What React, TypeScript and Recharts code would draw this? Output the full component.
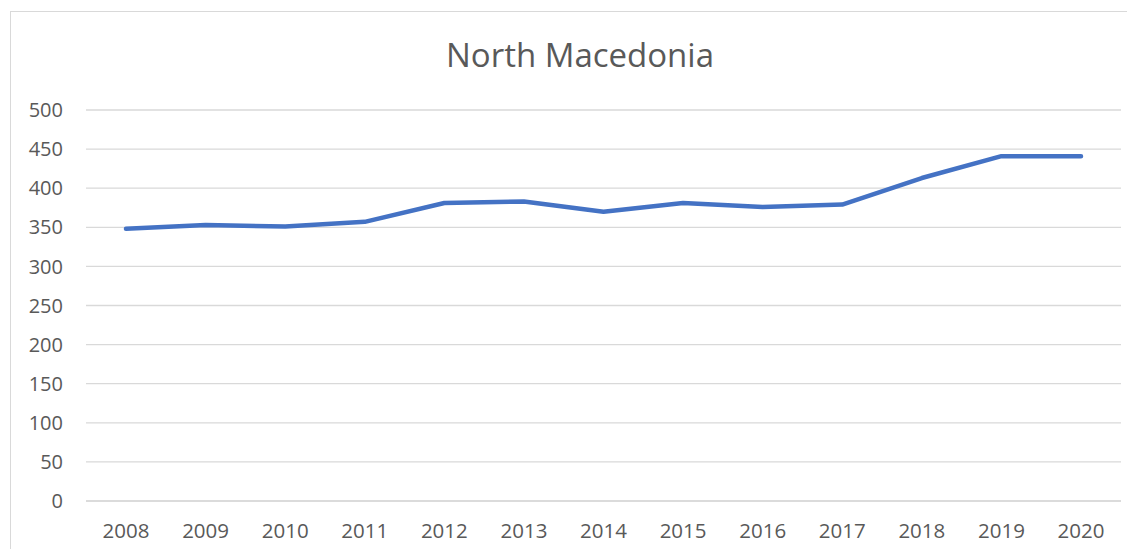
import React from 'react'
import { LineChart, Line, XAxis, YAxis, CartesianGrid } from 'recharts'

const years = ['2008', '2009', '2010', '2011', '2012', '2013', '2014', '2015', '2016', '2017', '2018', '2019', '2020']
const values = [348, 353, 351, 357, 381, 383, 370, 381, 376, 379, 413, 441, 441]
const yTicks = [0, 50, 100, 150, 200, 250, 300, 350, 400, 450, 500]

const data = years.map((year, i) => ({ year, value: values[i] }))

const font = '"Open Sans", sans-serif'
const textColor = '#595959'
const gridColor = '#D9D9D9'

export default function App() {
    return (
        <div style={{
            margin: -8,
            width: 1135,
            height: 557,
            overflow: 'hidden',
            position: 'relative',
            background: '#fff',
        }}>
            <div style={{
                position: 'absolute',
                left: 10,
                top: 11,
                width: 1140,
                height: 560,
                border: `1px solid ${gridColor}`,
            }} />
            <div style={{
                position: 'absolute',
                left: 0,
                width: 1160,
                top: 33,
                textAlign: 'center',
                fontFamily: font,
                fontSize: 33,
                color: textColor,
                lineHeight: '44px',
            }}>
                North Macedonia
            </div>
            <div style={{ position: 'absolute', left: 0, top: 0 }}>
                <LineChart width={1135} height={557} data={data}
                    margin={{ top: 110, right: 14, bottom: 26, left: 0 }}
                >
                    <CartesianGrid vertical={false} stroke={gridColor} strokeWidth={1.3} />
                    <XAxis dataKey="year" height={30} tickLine={false} tickSize={0} tickMargin={22}
                        padding={{ left: 40, right: 40 }} interval={0}
                        axisLine={{ stroke: gridColor, strokeWidth: 1.3 }}
                        tick={{ fill: textColor, fontSize: 20.5, fontFamily: font }} />
                    <YAxis width={86} domain={[0, 500]} ticks={yTicks} axisLine={false} tickLine={false}
                        tickSize={0} tickMargin={23} interval={0}
                        tick={{ fill: textColor, fontSize: 20, fontFamily: font }} />
                    <Line type="linear" dataKey="value" stroke="#4472C4" strokeWidth={4.5}
                        strokeLinecap="round" strokeLinejoin="round" dot={false} isAnimationActive={false} />
                </LineChart>
            </div>
        </div>
    )
}
